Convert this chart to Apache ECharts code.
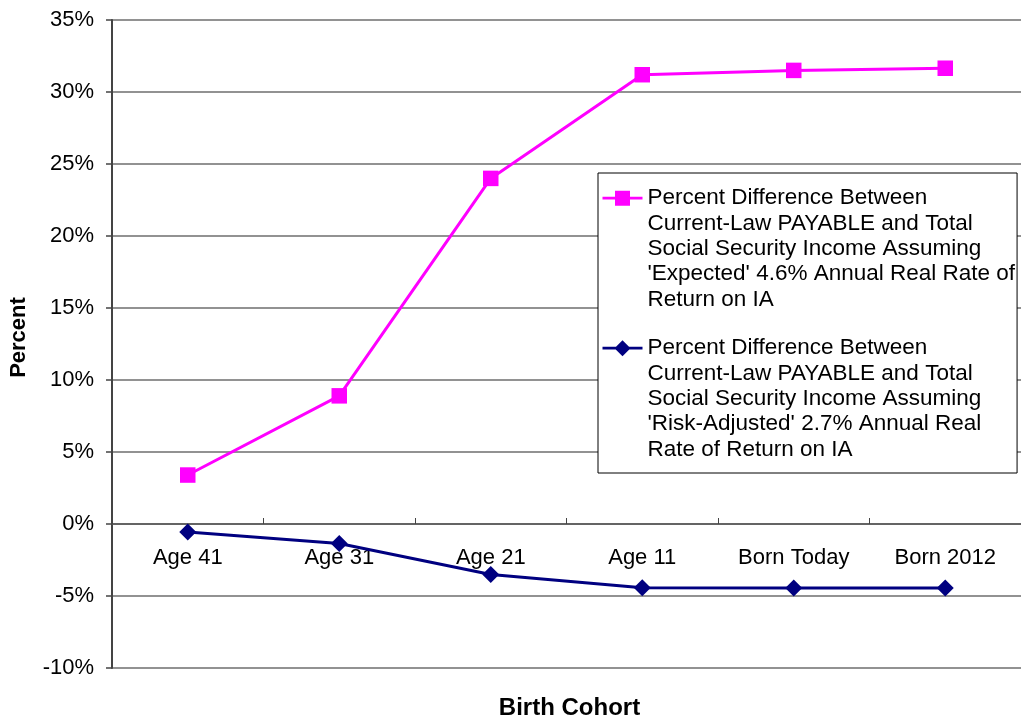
<!DOCTYPE html>
<html>
<head>
<meta charset="utf-8">
<script src="https://cdn.jsdelivr.net/npm/echarts@6/dist/echarts.min.js"></script>
<style>
html,body{margin:0;padding:0;background:#fff;}
#chart{width:1021px;height:717px;}
</style>
</head>
<body>
<div id="chart"></div>
<script>
var categories = ['Age 41', 'Age 31', 'Age 21', 'Age 11', 'Born Today', 'Born 2012'];
var expectedName = "Percent Difference Between\nCurrent-Law PAYABLE and Total\nSocial Security Income Assuming\n'Expected' 4.6% Annual Real Rate of\nReturn on IA";
var riskName = "Percent Difference Between\nCurrent-Law PAYABLE and Total\nSocial Security Income Assuming\n'Risk-Adjusted' 2.7% Annual Real\nRate of Return on IA";
var expectedValues = [3.4, 8.9, 24.0, 31.2, 31.5, 31.65];
var riskValues = [-0.56, -1.36, -3.51, -4.42, -4.45, -4.45];
var yMin = -10, yMax = 35, yStep = 5;

var FONT = "'Liberation Sans', Arial, sans-serif";
var LH = 25.3;
var IH = LH * 5;
var c = LH / 2;
var anchors = ' M0,' + (IH - 0.01) + ' L0.01,' + (IH - 0.01) + ' L0.01,' + IH + ' L0,' + IH + ' Z M0,0 L0.01,0 L0.01,0.01 L0,0.01 Z';
var lineBar = 'M0,' + (c - 1.3) + ' L40,' + (c - 1.3) + ' L40,' + (c + 1.3) + ' L0,' + (c + 1.3) + ' Z ';
var squareIcon = 'path://' + lineBar +
  'M12.5,' + (c - 7.5) + ' L27.5,' + (c - 7.5) + ' L27.5,' + (c + 7.5) + ' L12.5,' + (c + 7.5) + ' Z' + anchors;
var diamondIcon = 'path://' + lineBar +
  'M20,' + (c - 8) + ' L28,' + c + ' L20,' + (c + 8) + ' L12,' + c + ' Z' + anchors;

var gridTop = 20, gridBottom = 49;
var plotH = 717 - gridTop - gridBottom;
var zeroOffset = -plotH * (0 - yMin) / (yMax - yMin);

var chart = echarts.init(document.getElementById('chart'), null, {renderer: 'canvas'});
chart.setOption({
  animation: false,
  backgroundColor: '#ffffff',
  textStyle: {fontFamily: FONT},
  grid: {left: 112, right: 0, top: gridTop, bottom: gridBottom, containLabel: false, outerBoundsMode: 'none'},
  legend: {
    orient: 'vertical',
    left: 598,
    top: 173,
    padding: [12.5, 2, 11, 4.5],
    itemGap: 23.5,
    itemWidth: 40,
    itemHeight: IH,
    borderColor: '#000',
    borderWidth: 1,
    backgroundColor: '#fff',
    selectedMode: false,
    itemStyle: {borderWidth: 0},
    textStyle: {fontFamily: FONT, fontSize: 22.5, color: '#000', lineHeight: LH},
    data: [
      {name: expectedName, icon: squareIcon},
      {name: riskName, icon: diamondIcon}
    ]
  },
  xAxis: [
    {
      type: 'category',
      data: categories,
      boundaryGap: true,
      axisLine: {onZero: true, lineStyle: {color: '#555', width: 1.5}},
      axisTick: {show: true, inside: true, length: 6, lineStyle: {color: '#444', width: 1}},
      axisLabel: {show: false},
      splitLine: {show: false}
    },
    {
      type: 'category',
      data: categories,
      boundaryGap: true,
      position: 'bottom',
      offset: zeroOffset,
      name: 'Birth Cohort',
      nameLocation: 'middle',
      nameGap: 172,
      nameTextStyle: {fontFamily: FONT, fontSize: 24, fontWeight: 'bold', color: '#000', padding: [0, 0, 0, 6]},
      axisLine: {show: false, onZero: false},
      axisTick: {show: false},
      axisLabel: {margin: 23, fontFamily: FONT, fontSize: 22, color: '#000', interval: 0},
      splitLine: {show: false}
    }
  ],
  yAxis: {
    type: 'value',
    min: yMin,
    max: yMax,
    interval: yStep,
    name: 'Percent',
    nameLocation: 'middle',
    nameGap: 82,
    nameTextStyle: {fontFamily: FONT, fontSize: 22, fontWeight: 'bold', color: '#000', padding: [0, 0, 0, 13]},
    axisLine: {show: true, lineStyle: {color: '#444', width: 2}},
    axisTick: {show: true, inside: false, length: 6, lineStyle: {color: '#444', width: 1.5}},
    axisLabel: {margin: 18, fontFamily: FONT, fontSize: 22, color: '#000', formatter: '{value}%'},
    splitLine: {show: true, lineStyle: {color: '#6e6e6e', width: 1.5}}
  },
  series: [
    {
      name: expectedName,
      type: 'line',
      xAxisIndex: 0,
      data: expectedValues,
      symbol: 'rect',
      symbolSize: 15.5,
      color: '#ff00ff',
      lineStyle: {color: '#ff00ff', width: 3},
      itemStyle: {color: '#ff00ff', borderWidth: 0}
    },
    {
      name: riskName,
      type: 'line',
      xAxisIndex: 0,
      data: riskValues,
      symbol: 'diamond',
      symbolSize: 17,
      color: '#000080',
      lineStyle: {color: '#000080', width: 3},
      itemStyle: {color: '#000080', borderWidth: 0}
    }
  ]
});
</script>
</body>
</html>
